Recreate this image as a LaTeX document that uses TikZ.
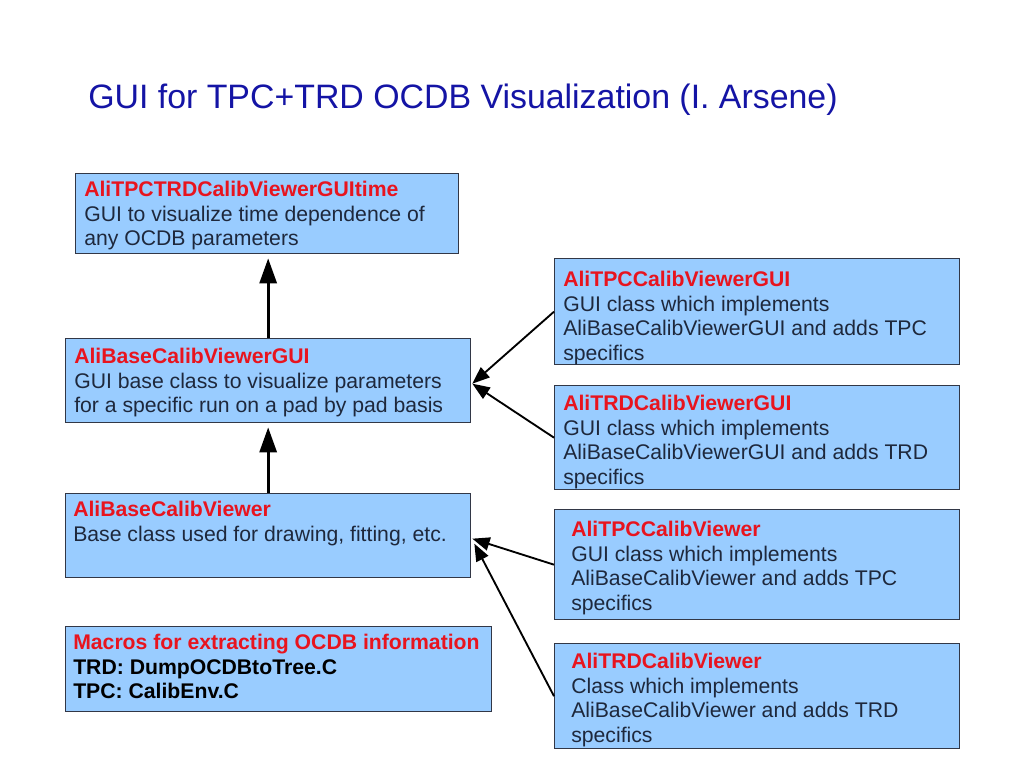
\documentclass[tikz,border=0pt]{standalone}
\usepackage{fontspec}
\setmainfont{Liberation Sans}
\usetikzlibrary{arrows.meta,calc}
\definecolor{boxfill}{RGB}{153,204,255}
\definecolor{boxline}{RGB}{50,55,70}
\definecolor{bodytext}{RGB}{30,40,60}
\definecolor{headred}{RGB}{232,20,30}
\definecolor{titleblue}{RGB}{20,20,165}
\tikzset{
  box/.style={draw=boxline, fill=boxfill, line width=1pt, inner sep=0pt, anchor=north west},
  txt/.style={anchor=north west, inner sep=0pt, align=left, text=bodytext,
    font=\fontsize{15.9}{18.4}\selectfont},
  bigarrow/.style={line width=2.25pt, -{Triangle[length=18.75pt, width=12.75pt]}, shorten >=3pt},
  smallarrow/.style={line width=1.4pt, -{Triangle[length=13pt, width=10pt]}},
}
\newcommand{\hdtxt}[1]{\textcolor{headred}{\bfseries #1}}
\begin{document}
\begin{tikzpicture}[x=0.75pt, y=-0.75pt]
\useasboundingbox (0,0) rectangle (1024,768);
\fill[white] (0,0) rectangle (1024,768);
% title
\node[anchor=base west, inner sep=0pt, text=titleblue, font=\fontsize{25.4}{30}\selectfont] (title) at (88,108) {GUI for TPC+TRD OCDB Visualization (I. Arsene)};
% boxes
\node[box, minimum width=383*0.75pt, minimum height=80*0.75pt] (b1) at (75,173) {};
\node[box, minimum width=405*0.75pt, minimum height=84*0.75pt] (b2) at (65,338) {};
\node[box, minimum width=405*0.75pt, minimum height=84*0.75pt] (b3) at (65,493) {};
\node[box, minimum width=426*0.75pt, minimum height=85*0.75pt] (b4) at (65,626) {};
\node[box, minimum width=405*0.75pt, minimum height=106*0.75pt] (b5) at (554,258) {};
\node[box, minimum width=405*0.75pt, minimum height=104*0.75pt] (b6) at (554,385) {};
\node[box, minimum width=405*0.75pt, minimum height=110*0.75pt] (b7) at (554,509) {};
\node[box, minimum width=405*0.75pt, minimum height=105*0.75pt] (b8) at (554,643) {};
% texts
\node[txt] (t1) at ($(b1.north west)+(9,8)$) {\hdtxt{AliTPCTRDCalibViewerGUItime}\\GUI to visualize time dependence of\\any OCDB parameters};
\node[txt] (t2) at ($(b2.north west)+(9,10)$) {\hdtxt{AliBaseCalibViewerGUI}\\GUI base class to visualize parameters\\for a specific run on a pad by pad basis};
\node[txt] (t3) at ($(b3.north west)+(8,8)$) {\hdtxt{AliBaseCalibViewer}\\Base class used for drawing, fitting, etc.};
\node[txt, text=black, font=\fontsize{15.9}{18.4}\selectfont\bfseries] (t4) at ($(b4.north west)+(8,8)$) {\hdtxt{Macros for extracting OCDB information}\\TRD: DumpOCDBtoTree.C\\TPC: CalibEnv.C};
\node[txt] (t5) at ($(b5.north west)+(9,13)$) {\hdtxt{AliTPCCalibViewerGUI}\\GUI class which implements\\AliBaseCalibViewerGUI and adds TPC\\specifics};
\node[txt] (t6) at ($(b6.north west)+(9,10)$) {\hdtxt{AliTRDCalibViewerGUI}\\GUI class which implements\\AliBaseCalibViewerGUI and adds TRD\\specifics};
\node[txt] (t7) at ($(b7.north west)+(17,12)$) {\hdtxt{AliTPCCalibViewer}\\GUI class which implements\\AliBaseCalibViewer and adds TPC\\specifics};
\node[txt] (t8) at ($(b8.north west)+(17,10)$) {\hdtxt{AliTRDCalibViewer}\\Class which implements\\AliBaseCalibViewer and adds TRD\\specifics};
% connectors
\coordinate (b2in) at ($(b2.east)+(1,3)$);
\coordinate (b3inA) at ($(b3.east)+(1,3)$);
\coordinate (b3inB) at ($(b3.east)+(3,8)$);
\draw[bigarrow] (b2.north) -- (b2.north |- b1.south);
\draw[bigarrow] (b3.north) -- (b3.north |- b2.south);
\draw[smallarrow] (b5.west) -- (b2in);
\draw[smallarrow] (b6.west) -- (b2in);
\draw[smallarrow] (b7.west) -- (b3inA);
\draw[smallarrow] (b8.west) -- (b3inB);
\end{tikzpicture}
\end{document}
